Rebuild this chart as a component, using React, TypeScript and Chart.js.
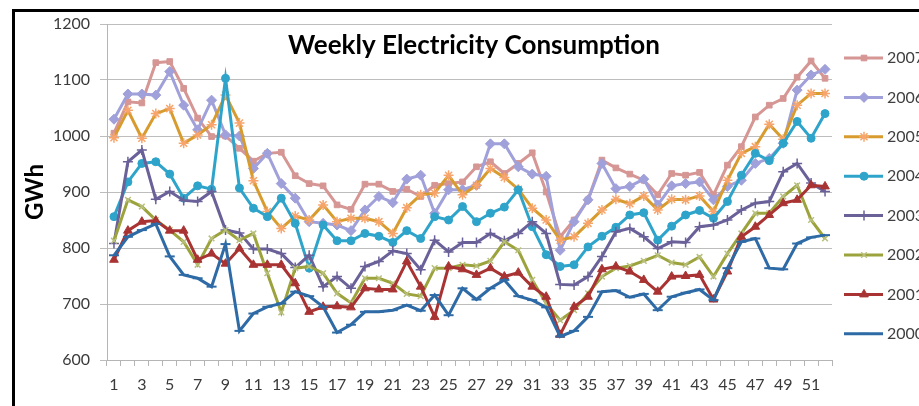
import React, { useEffect, useRef } from 'react';
import { Chart, registerables } from 'chart.js';
import { drawPoint } from 'chart.js/helpers';

Chart.register(...registerables);

const weeks = ['1','2','3','4','5','6','7','8','9','10','11','12','13','14','15','16','17','18','19','20','21','22','23','24','25','26','27','28','29','30','31','32','33','34','35','36','37','38','39','40','41','42','43','44','45','46','47','48','49','50','51','52'];

const yTicks = [600, 700, 800, 900, 1000, 1100, 1200];

const y2007 = [1005,1061,1059,1131,1133,1085,1032,999,1000,978,955,969,971,929,915,911,877,869,914,914,901,905,892,912,915,918,945,954,933,951,970,900,820,850,886,957,943,932,921,895,933,930,935,895,948,981,1034,1055,1067,1105,1134,1103];
const y2006 = [1030,1075,1075,1073,1115,1055,1011,1064,1002,1000,942,969,915,889,847,844,841,831,868,892,881,923,930,862,904,904,912,986,986,945,932,928,796,847,886,951,906,910,923,877,911,915,918,886,910,921,951,960,987,1082,1109,1119];
const y2005 = [997,1046,996,1040,1049,987,1002,1020,1073,1023,920,865,835,857,850,877,847,853,853,847,826,872,895,898,930,895,912,942,926,905,871,850,814,820,844,868,887,879,893,868,887,886,893,865,921,969,981,1021,994,1055,1076,1076];
const y2004 = [856,918,951,954,932,889,911,905,1103,907,871,856,889,844,764,841,813,813,826,821,810,831,817,856,850,874,847,862,873,904,838,788,767,770,802,821,837,859,863,814,839,859,867,853,883,930,969,956,987,1026,996,1040];
const y2003 = [808,954,975,887,901,885,883,901,832,827,798,798,790,765,787,731,749,728,767,776,795,790,761,814,793,810,810,826,813,826,847,826,735,734,749,785,829,835,820,799,811,810,838,841,850,868,880,883,936,951,916,901];
const y2002 = [813,886,874,850,832,811,770,817,832,814,826,755,685,764,767,755,719,702,746,746,737,718,714,764,764,770,768,777,811,796,743,701,671,689,719,749,764,768,777,787,774,770,784,749,790,826,862,862,892,912,850,817];
const y2001 = [779,831,847,849,831,831,779,790,772,799,770,770,770,737,686,695,696,694,728,726,726,776,731,677,767,762,752,764,749,756,731,713,645,695,713,762,767,758,743,722,749,750,752,708,758,820,838,859,880,886,912,910];
const y2000 = [787,820,832,843,785,752,746,731,807,652,683,695,701,722,714,695,649,663,686,686,689,698,688,716,680,728,708,728,743,714,707,694,642,652,677,722,724,712,718,689,713,720,726,707,764,811,817,764,762,808,819,823];

const FONT = 'Lato, "Liberation Sans", sans-serif';

function series(label: string, data: number[], color: string, style: string, radius: number, marker: string, bw: number) {
  return {
    label,
    data,
    borderColor: color,
    backgroundColor: marker,
    pointBackgroundColor: marker,
    pointBorderColor: marker,
    pointStyle: style,
    pointRadius: radius,
    pointHoverRadius: radius,
    pointBorderWidth: bw,
    borderWidth: 3,
    tension: 0,
    fill: false,
  };
}

const framePlugin = {
  id: 'frame',
  beforeDraw(chart: any) {
    const ctx = chart.ctx;
    ctx.save();
    ctx.fillStyle = '#ffffff';
    ctx.fillRect(0, 0, chart.width, chart.height);
    ctx.fillStyle = '#000000';
    ctx.fillRect(12, 9, 3, chart.height - 9);
    ctx.fillRect(12, 9, chart.width - 12, 3);
    ctx.restore();
  },
};

const titlePlugin = {
  id: 'insideTitle',
  afterDraw(chart: any) {
    const ctx = chart.ctx;
    ctx.save();
    ctx.font = 'bold 26px ' + FONT;
    ctx.fillStyle = '#000000';
    ctx.textAlign = 'center';
    ctx.textBaseline = 'middle';
    ctx.fillText('Weekly Electricity Consumption', 474, 46);
    ctx.restore();
  },
};

const sideLegendPlugin = {
  id: 'sideLegend',
  afterDraw(chart: any) {
    const ctx = chart.ctx;
    const ds = chart.data.datasets;
    ctx.save();
    for (let k = 0; k < ds.length; k++) {
      const d = ds[ds.length - 1 - k];
      const y = 58 + k * 39.4;
      ctx.strokeStyle = d.borderColor;
      ctx.lineWidth = 3;
      ctx.beginPath();
      ctx.moveTo(844, y);
      ctx.lineTo(883, y);
      ctx.stroke();
      ctx.fillStyle = d.pointBackgroundColor;
      ctx.strokeStyle = d.pointBorderColor;
      ctx.lineWidth = d.pointBorderWidth;
      drawPoint(ctx, { pointStyle: d.pointStyle, rotation: 0, radius: d.pointRadius, borderWidth: d.pointBorderWidth }, 864, y);
      ctx.fillStyle = '#404040';
      ctx.font = '16px ' + FONT;
      ctx.textAlign = 'left';
      ctx.textBaseline = 'middle';
      ctx.fillText(d.label, 887, y);
    }
    ctx.restore();
  },
};

export default function App() {
  const ref = useRef<HTMLCanvasElement>(null);
  useEffect(() => {
    if (!ref.current) return;
    Chart.defaults.font.family = FONT;
    const chart = new Chart(ref.current, {
      type: 'line',
      data: {
        labels: weeks,
        datasets: [
          series('2000', y2000, '#2E6BA6', 'line', 5, '#2E6BA6', 2),
          series('2001', y2001, '#A93333', 'triangle', 5, '#A93333', 1),
          series('2002', y2002, '#9CA33C', 'crossRot', 4, '#B9C07E', 1.5),
          series('2003', y2003, '#6A6199', 'cross', 5, '#6A6199', 1.5),
          series('2004', y2004, '#2FA4CA', 'circle', 4, '#2FA4CA', 1),
          series('2005', y2005, '#D89C2E', 'star', 5, '#F7A56C', 1.5),
          series('2006', y2006, '#A0A0DA', 'rectRot', 5, '#A0A0DA', 1),
          series('2007', y2007, '#D59694', 'rect', 4, '#D59694', 1),
        ],
      },
      options: {
        responsive: true,
        maintainAspectRatio: false,
        animation: false,
        events: [],
        layout: { padding: { left: 17, top: 24, right: 87, bottom: 0 } },
        plugins: {
          legend: { display: false },
          tooltip: { enabled: false },
          title: { display: false },
        },
        scales: {
          x: {
            type: 'category',
            offset: true,
            grid: { display: true, drawOnChartArea: false, drawTicks: true, tickLength: 6, offset: true, color: '#B5B5B5' },
            border: { display: true, color: '#B5B5B5', width: 1 },
            ticks: {
              autoSkip: false,
              maxRotation: 0,
              minRotation: 0,
              padding: 9,
              color: '#3A3A3A',
              font: { size: 16, family: FONT },
              callback: (_v: any, i: number) => (i % 2 === 0 ? weeks[i] : ''),
            },
            afterFit: (s: any) => { s.height = 46; },
          },
          y: {
            min: yTicks[0],
            max: yTicks[yTicks.length - 1],
            afterBuildTicks: (s: any) => { s.ticks = yTicks.map((v) => ({ value: v })); },
            grid: { color: '#BDBDBD', tickLength: 7, drawTicks: true },
            border: { display: true, color: '#B5B5B5', width: 1 },
            ticks: { padding: 10, color: '#3A3A3A', font: { size: 16, family: FONT }, callback: (v: any) => String(v) },
            title: { display: true, text: 'GWh', color: '#000000', font: { size: 24, weight: 'bold', family: FONT }, padding: { top: 4, bottom: 4 } },
            afterFit: (s: any) => { s.width = 90; },
          },
        },
      },
      plugins: [framePlugin, titlePlugin, sideLegendPlugin],
    } as any);
    return () => chart.destroy();
  }, []);
  return (
    <div style={{ position: 'absolute', left: 0, top: 0, width: 919, height: 406 }}>
      <canvas ref={ref} />
    </div>
  );
}
